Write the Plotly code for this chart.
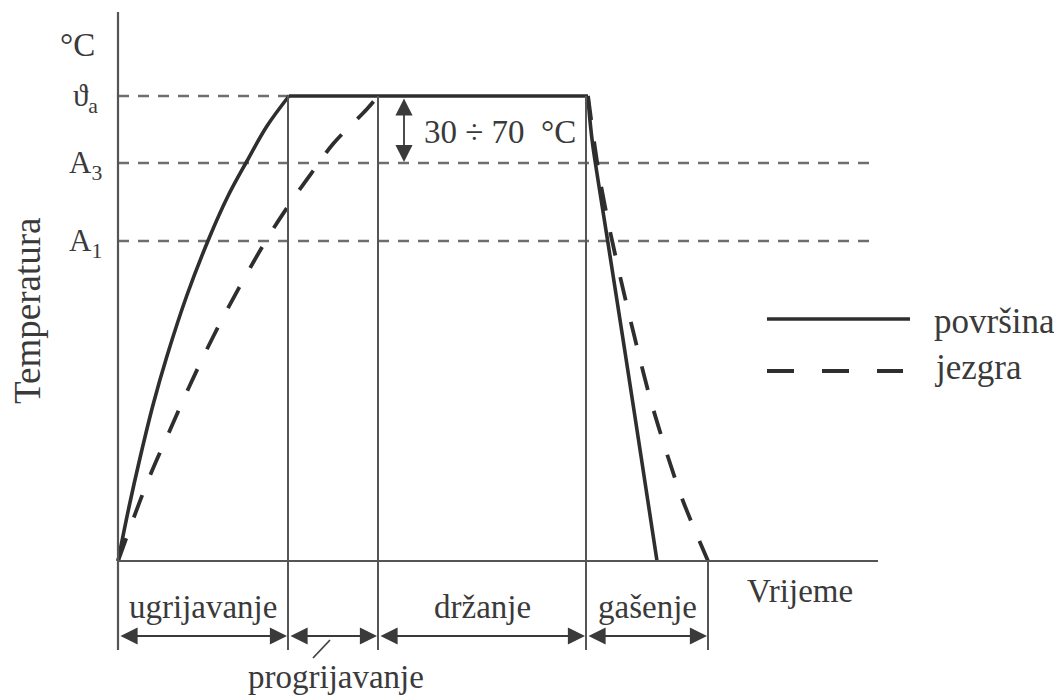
import plotly.graph_objects as go

# ---- data (schematic units: time offset, temperature level) ----
phase_bounds = [0, 170, 260, 468, 590]          # ugrijavanje | progrijavanje | drzanje | gasenje
phase_labels = ["ugrijavanje", "držanje", "gašenje"]
level_names = ["ϑ<sub>a</sub>", "A<sub>3</sub>", "A<sub>1</sub>"]
level_values = [465, 398, 320]

surf_heat_t = [0, 11, 22, 35, 49, 69, 92, 110, 129, 149, 171]
surf_heat_T = [0, 54, 103, 156, 205, 266, 325, 365, 400, 435, 465]
surf_hold_t = [171, 470]
surf_hold_T = [465, 465]
surf_quench_t = [470, 472, 475, 490, 507, 523, 539]
surf_quench_T = [465, 440, 414, 318, 209, 105, 0]

core_heat_t = [0, 29, 52, 72, 95, 122, 152, 175, 195, 215, 249, 260]
core_heat_T = [0, 78, 131, 176, 224, 275, 327, 362, 390, 417, 452, 465]
core_quench_t = [470, 476, 482, 492, 505, 519, 532, 549, 565, 590]
core_quench_T = [465, 420, 381, 330, 272, 214, 163, 107, 60, 0]

axis_end_t = 760
span_text = "30 ÷ 70  °C"

LINE = "#2e2e2e"
TXT = "#3a3a3a"
GRID = "#6e6e6e"
FONT = "Liberation Serif"

fig = go.Figure()

# reference levels (dashed thin)
for name, val in zip(level_names, level_values):
    x_end = surf_heat_t[-1] if val == level_values[0] else axis_end_t
    fig.add_trace(go.Scatter(x=[0, x_end], y=[val, val], mode="lines",
                             line=dict(color=GRID, width=2.4, dash="11px,9px"),
                             hoverinfo="skip", showlegend=False))

# surface (solid)
fig.add_trace(go.Scatter(x=surf_heat_t, y=surf_heat_T, mode="lines",
                         line=dict(color=LINE, width=3.6, shape="spline", smoothing=1.0),
                         showlegend=False))
fig.add_trace(go.Scatter(x=surf_hold_t, y=surf_hold_T, mode="lines",
                         line=dict(color=LINE, width=3.6), showlegend=False))
fig.add_trace(go.Scatter(x=surf_quench_t, y=surf_quench_T, mode="lines",
                         line=dict(color=LINE, width=3.6, shape="spline", smoothing=0.8),
                         showlegend=False))
# core (dashed)
fig.add_trace(go.Scatter(x=core_heat_t, y=core_heat_T, mode="lines",
                         line=dict(color=LINE, width=3.8, dash="24px,22px", shape="spline", smoothing=1.0),
                         showlegend=False))
fig.add_trace(go.Scatter(x=core_quench_t, y=core_quench_T, mode="lines",
                         line=dict(color=LINE, width=3.8, dash="24px,22px", shape="spline", smoothing=0.8),
                         showlegend=False))

bottom = -89
arrow_y = -75
# axes lines
fig.add_shape(type="line", x0=0, x1=0, y0=bottom, y1=549, line=dict(color="#555", width=2.2))
fig.add_shape(type="line", x0=0, x1=axis_end_t, y0=0, y1=0, line=dict(color="#555", width=2.2))
# phase vertical lines
for b in phase_bounds[1:4]:
    fig.add_shape(type="line", x0=b, x1=b, y0=bottom, y1=level_values[0], line=dict(color="#555", width=2))
fig.add_shape(type="line", x0=phase_bounds[4], x1=phase_bounds[4], y0=bottom, y1=0,
              line=dict(color="#555", width=2))

ann = []
# double arrows for phases
for a, b in zip(phase_bounds[:-1], phase_bounds[1:]):
    ann.append(dict(x=b, y=arrow_y, ax=a, ay=arrow_y, axref="x", ayref="y", xref="x", yref="y",
                    text="", showarrow=True, arrowhead=2, startarrowhead=2, arrowside="end+start",
                    arrowsize=1.9, startarrowsize=1.9, arrowwidth=1.8, arrowcolor="#3a3a3a",
                    standoff=1, startstandoff=1))
# phase labels
label_centers = [(phase_bounds[0] + phase_bounds[1]) / 2, (phase_bounds[2] + phase_bounds[3]) / 2,
                 (phase_bounds[3] + phase_bounds[4]) / 2]
for lab, cx in zip(phase_labels, label_centers):
    ann.append(dict(x=cx, y=-46, text=lab, showarrow=False, xref="x", yref="y",
                    font=dict(family=FONT, size=33, color=TXT)))
ann.append(dict(x=218, y=-116, text="progrijavanje", showarrow=False,
                font=dict(family=FONT, size=33, color=TXT)))
ann.append(dict(x=682, y=-30, text="Vrijeme", showarrow=False,
                font=dict(family=FONT, size=33, color=TXT)))
ann.append(dict(x=-91, y=250, text="Temperatura", textangle=-90, showarrow=False,
                font=dict(family=FONT, size=37, color=TXT)))
ann.append(dict(x=-41, y=516, text="°C", showarrow=False,
                font=dict(family=FONT, size=33, color=TXT)))
for name, val in zip(level_names, level_values):
    ann.append(dict(x=-33, y=val - 2, text=name, showarrow=False,
                    font=dict(family=FONT, size=31, color=TXT)))
# 30÷70 span arrow
ann.append(dict(x=286, y=level_values[1], ax=286, ay=level_values[0], axref="x", ayref="y",
                text="", showarrow=True, arrowhead=2, startarrowhead=2, arrowside="end+start",
                arrowsize=1.9, startarrowsize=1.9, arrowwidth=1.8, arrowcolor="#3a3a3a",
                standoff=1, startstandoff=1))
ann.append(dict(x=382, y=429, text=span_text, showarrow=False,
                font=dict(family=FONT, size=33, color=TXT)))
# legend
fig.add_shape(type="line", x0=649, x1=792, y0=242, y1=242, line=dict(color=LINE, width=3.6))
fig.add_shape(type="line", x0=649, x1=785, y0=190, y1=190,
              line=dict(color=LINE, width=3.8, dash="27px,28px"))
ann.append(dict(x=814, y=240, text="površina", showarrow=False, xanchor="left",
                font=dict(family=FONT, size=35, color=TXT)))
ann.append(dict(x=814, y=194, text="jezgra", showarrow=False, xanchor="left",
                font=dict(family=FONT, size=35, color=TXT)))

# leader line for progrijavanje
fig.add_shape(type="line", x0=195, x1=212, y0=-97, y1=-79, line=dict(color="#444", width=1.8))

# page body has an 8px margin, so ranges are offset to keep the marks in place
fig.update_layout(
    width=1062, height=695, autosize=False,
    margin=dict(l=0, r=0, t=0, b=0),
    paper_bgcolor="white", plot_bgcolor="white",
    xaxis=dict(range=[-110, 952], visible=False, fixedrange=True),
    yaxis=dict(range=[-142, 553], visible=False, fixedrange=True),
    annotations=ann, showlegend=False,
)
fig.write_html("out.html")
